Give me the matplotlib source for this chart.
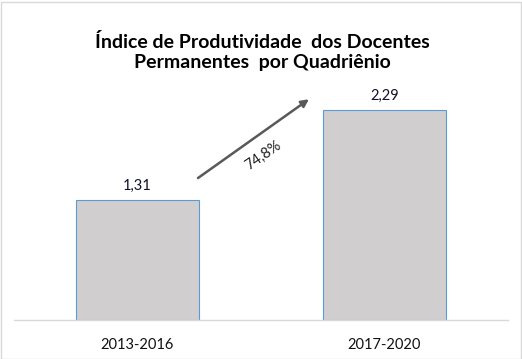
import matplotlib.pyplot as plt
from matplotlib.patches import Rectangle

periods = ["2013-2016", "2017-2020"]
indices = [1.31, 2.29]

TITLE = "Índice de Produtividade  dos Docentes\nPermanentes  por Quadriênio"

plt.rcParams["font.family"] = ["Lato", "DejaVu Sans"]

fig = plt.figure(figsize=(5.22, 3.59), dpi=100)
ax = fig.add_axes([14 / 522, 39 / 359, 494 / 522, 229 / 359])

x = range(len(periods))
ax.bar(x, indices, width=0.5, color="#d0cece", edgecolor="#5b9bd5", linewidth=0.8)
for i, v in zip(x, indices):
    ax.text(i, v + 0.08, f"{v:.2f}".replace(".", ","), ha="center", va="bottom",
            fontsize=10.5, color="#10102a")

ax.set_xlim(-0.5, 1.5)
ax.set_ylim(0, 2.5)
ax.set_xticks(list(x))
ax.set_xticklabels(periods, fontsize=10.5, color="#111111")
ax.tick_params(axis="x", length=0, pad=13)
ax.set_yticks([])
for s in ["top", "left", "right"]:
    ax.spines[s].set_visible(False)
ax.spines["bottom"].set_color("#d9d9d9")
ax.spines["bottom"].set_linewidth(1)

# growth arrow
growth = (indices[1] / indices[0] - 1) * 100
ax.annotate("", xy=(0.694, indices[1] + 0.12), xytext=(0.245, indices[0] + 0.24),
            arrowprops=dict(arrowstyle="-|>", color="#595959", lw=1.8,
                            mutation_scale=11, shrinkA=0, shrinkB=0))
ax.text(0.508, 1.80, f"{growth:.1f}%".replace(".", ","), rotation=35,
        ha="center", va="center", fontsize=10.5, color="#1f1f1f")

fig.text(0.502, 1 - 52 / 359, TITLE, ha="center", va="center", fontsize=14,
         fontweight="bold", linespacing=1.25, color="black")

fig.patches.append(Rectangle((0.5 / 522, 0.5 / 359), 520 / 522, 357 / 359,
                             transform=fig.transFigure, fill=False,
                             edgecolor="#d9d9d9", linewidth=1))

fig.savefig("out.png", dpi=100)
